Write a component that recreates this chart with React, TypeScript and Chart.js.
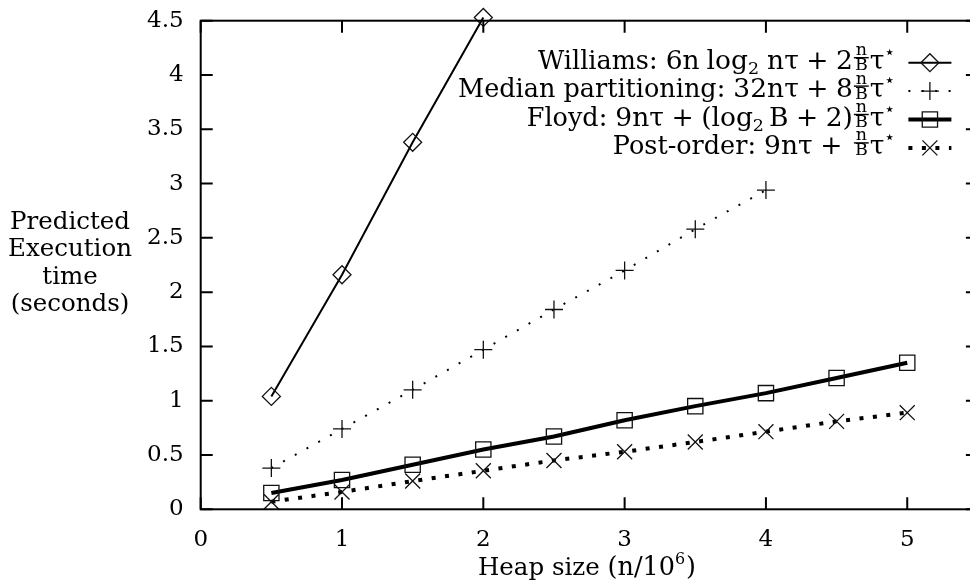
import React, { useEffect, useRef } from "react";
import { Chart, registerables } from "chart.js";

Chart.register(...registerables);

// ---- data ----
const xValues = [0.5, 1, 1.5, 2, 2.5, 3, 3.5, 4, 4.5, 5];
const williams = [1.04, 2.16, 3.38, 4.53];
const median = [0.38, 0.74, 1.1, 1.47, 1.84, 2.2, 2.58, 2.94];
const floyd = [0.15, 0.27, 0.41, 0.55, 0.67, 0.82, 0.95, 1.07, 1.21, 1.35];
const postOrder = [0.07, 0.16, 0.26, 0.355, 0.45, 0.53, 0.62, 0.715, 0.81, 0.89];
const xTicks = [0, 1, 2, 3, 4, 5];
const yTicks = [0, 0.5, 1, 1.5, 2, 2.5, 3, 3.5, 4, 4.5];
const yTitle = ["Predicted", "Execution", "time", "(seconds)"];

type Kind = "t" | "m" | "op" | "sp" | "sub" | "sup" | "frac";
type Piece = { t: string; k: Kind };
const T = (t: string): Piece => ({ t, k: "t" });
const M = (t: string): Piece => ({ t, k: "m" });
const OP = (t: string): Piece => ({ t, k: "op" });
const SP = (t: string): Piece => ({ t, k: "sp" });
const SUB = (t: string): Piece => ({ t, k: "sub" });
const SUP = (t: string): Piece => ({ t, k: "sup" });
const FRAC: Piece = { t: "n|B", k: "frac" };

const legendRows: Piece[][] = [
  [T("Williams: "), M("6n"), SP("7"), M("log"), SUB("2"), SP("7"), M("nτ"), OP("+"), M("2"), FRAC, M("τ"), SUP("⋆")],
  [T("Median partitioning: "), M("32nτ"), OP("+"), M("8"), FRAC, M("τ"), SUP("⋆")],
  [T("Floyd: "), M("9nτ"), OP("+"), M("(log"), SUB("2"), SP("4"), M("B"), OP("+"), M("2)"), FRAC, M("τ"), SUP("⋆")],
  [T("Post-order: "), M("9nτ"), OP("+"), SP("3"), FRAC, M("τ"), SUP("⋆")],
];
const xTitle: Piece[] = [T("Heap size "), M("(n/10"), SUP("6"), M(")")];

const FAMILY = '"DejaVu Serif"';
type Fonts = { text: string; math: string; small: string; gap: number };
const LEGEND_FONTS: Fonts = { text: `25.5px ${FAMILY}`, math: `26.5px ${FAMILY}`, small: `17.5px ${FAMILY}`, gap: 7.5 };
const TITLE_FONTS: Fonts = { text: `24.5px ${FAMILY}`, math: `25.5px ${FAMILY}`, small: `16px ${FAMILY}`, gap: 6 };

function pieceWidth(ctx: CanvasRenderingContext2D, p: Piece, f: Fonts) {
  if (p.k === "t") {
    ctx.font = f.text;
    return ctx.measureText(p.t).width;
  }
  if (p.k === "m") {
    ctx.font = f.math;
    return ctx.measureText(p.t).width;
  }
  if (p.k === "op") {
    ctx.font = f.math;
    return ctx.measureText(p.t).width + 2 * f.gap;
  }
  if (p.k === "sp") return Number(p.t);
  ctx.font = f.small;
  if (p.k === "frac") {
    const [a, b] = p.t.split("|");
    return Math.max(ctx.measureText(a).width, ctx.measureText(b).width) + 4;
  }
  return ctx.measureText(p.t).width + 1;
}

function drawRich(ctx: CanvasRenderingContext2D, pieces: Piece[], x0: number, base: number, f: Fonts) {
  let x = x0;
  ctx.textBaseline = "alphabetic";
  ctx.textAlign = "left";
  for (const p of pieces) {
    const w = pieceWidth(ctx, p, f);
    if (p.k === "t") {
      ctx.font = f.text;
      ctx.fillText(p.t, x, base);
    } else if (p.k === "m") {
      ctx.font = f.math;
      ctx.fillText(p.t, x, base);
    } else if (p.k === "op") {
      ctx.font = f.math;
      ctx.fillText(p.t, x + f.gap, base);
    } else if (p.k === "sub") {
      ctx.font = f.small;
      ctx.fillText(p.t, x, base + 5);
    } else if (p.k === "sup") {
      ctx.font = f.small;
      ctx.fillText(p.t, x, base - 11);
    } else if (p.k === "frac") {
      const [a, b] = p.t.split("|");
      ctx.font = f.small;
      const bar = base - 11;
      ctx.textAlign = "center";
      ctx.fillText(a, x + w / 2, bar - 2.5);
      ctx.fillText(b, x + w / 2, base + 1.5);
      ctx.textAlign = "left";
      ctx.fillRect(x + 1, bar - 0.7, w - 2, 1.4);
    }
    x += w;
  }
  return x;
}

function richWidth(ctx: CanvasRenderingContext2D, pieces: Piece[], f: Fonts) {
  return pieces.reduce((s, p) => s + pieceWidth(ctx, p, f), 0);
}

function drawMarker(ctx: CanvasRenderingContext2D, style: string, r: number, x: number, y: number) {
  ctx.beginPath();
  if (style === "rectRot") {
    ctx.moveTo(x - r, y);
    ctx.lineTo(x, y - r);
    ctx.lineTo(x + r, y);
    ctx.lineTo(x, y + r);
    ctx.closePath();
  } else if (style === "rect") {
    const s = Math.SQRT1_2 * r;
    ctx.rect(x - s, y - s, 2 * s, 2 * s);
  } else if (style === "cross") {
    ctx.moveTo(x - r, y);
    ctx.lineTo(x + r, y);
    ctx.moveTo(x, y - r);
    ctx.lineTo(x, y + r);
  } else {
    const s = Math.SQRT1_2 * r;
    ctx.moveTo(x - s, y - s);
    ctx.lineTo(x + s, y + s);
    ctx.moveTo(x + s, y - s);
    ctx.lineTo(x - s, y + s);
  }
  ctx.stroke();
}

const framePlugin = {
  id: "frame",
  afterDraw(chart: any) {
    const { ctx, chartArea: a, scales } = chart;
    const xs = scales.x;
    const ys = scales.y;
    ctx.save();
    ctx.strokeStyle = "#000";
    ctx.fillStyle = "#000";
    ctx.lineWidth = 2;
    ctx.setLineDash([]);
    ctx.strokeRect(a.left, a.top, a.right - a.left, a.bottom - a.top);
    const TL = 12;
    ctx.beginPath();
    for (const v of xTicks) {
      const px = xs.getPixelForValue(v);
      ctx.moveTo(px, a.bottom);
      ctx.lineTo(px, a.bottom - TL);
      ctx.moveTo(px, a.top);
      ctx.lineTo(px, a.top + TL);
    }
    for (const v of yTicks) {
      const py = ys.getPixelForValue(v);
      ctx.moveTo(a.left, py);
      ctx.lineTo(a.left + TL, py);
      ctx.moveTo(a.right, py);
      ctx.lineTo(a.right - TL, py);
    }
    ctx.stroke();

    // y title
    ctx.font = TITLE_FONTS.text;
    ctx.textAlign = "center";
    ctx.textBaseline = "alphabetic";
    yTitle.forEach((line, i) => ctx.fillText(line, 70, 229 + i * 27.3));

    // x title
    const xw = richWidth(ctx, xTitle, TITLE_FONTS);
    drawRich(ctx, xTitle, 587 - xw / 2, 575, TITLE_FONTS);

    // legend
    const textRight = a.right - 81.5;
    const sx0 = a.right - 69.5;
    const sx1 = a.right - 26.5;
    const sxc = (sx0 + sx1) / 2;
    chart.data.datasets.forEach((ds: any, i: number) => {
      const lineY = a.top + 42 + i * 28.4;
      const row = legendRows[i];
      const w = richWidth(ctx, row, LEGEND_FONTS);
      ctx.fillStyle = "#000";
      drawRich(ctx, row, textRight - w, lineY + 6, LEGEND_FONTS);
      ctx.beginPath();
      ctx.strokeStyle = "#000";
      ctx.lineWidth = ds.borderWidth;
      ctx.setLineDash(ds.borderDash || []);
      ctx.lineCap = "butt";
      ctx.moveTo(sx0, lineY);
      ctx.lineTo(sx1, lineY);
      ctx.stroke();
      ctx.setLineDash([]);
      ctx.lineWidth = ds.pointBorderWidth;
      ctx.strokeStyle = ds.pointBorderColor;
      drawMarker(ctx, ds.pointStyle, ds.pointRadius, sxc, lineY);
    });
    ctx.restore();
  },
};

export default function App() {
  const ref = useRef<HTMLCanvasElement | null>(null);
  useEffect(() => {
    if (!ref.current) return;
    const tickFont = { family: "DejaVu Serif", size: 23 };
    const mk = (label: string, ys: number[], extra: any) => ({
      label,
      data: ys.map((y, i) => ({ x: xValues[i], y })),
      borderColor: "#000",
      pointBorderColor: "#111",
      pointBackgroundColor: "rgba(0,0,0,0)",
      pointBorderWidth: 1.3,
      pointHoverRadius: 0,
      tension: 0,
      borderCapStyle: "butt",
      ...extra,
    });
    const chart = new Chart(ref.current, {
      type: "line",
      data: {
        datasets: [
          mk("Williams", williams, { borderWidth: 2, pointStyle: "rectRot", pointRadius: 9, clip: { left: 0, right: 0, top: 14, bottom: 0 } }),
          mk("Median partitioning", median, { borderWidth: 2, borderDash: [2, 11.4], pointStyle: "cross", pointRadius: 9 }),
          mk("Floyd", floyd, { borderWidth: 4, pointStyle: "rect", pointRadius: 10.8 }),
          mk("Post-order", postOrder, { borderWidth: 4, borderDash: [4, 9.5], pointStyle: "crossRot", pointRadius: 10.6 }),
        ],
      },
      options: {
        responsive: false,
        animation: false,
        events: [],
        layout: { padding: { top: 20.7, right: 11.6, bottom: 0, left: 0 } },
        plugins: { legend: { display: false }, tooltip: { enabled: false } },
        scales: {
          x: {
            type: "linear",
            min: 0,
            max: 5.5,
            afterBuildTicks: (s: any) => {
              s.ticks = xTicks.map((v) => ({ value: v }));
            },
            ticks: { padding: 17, font: tickFont, color: "#000", callback: (v: any) => String(v), maxRotation: 0, autoSkip: false },
            grid: { display: false, drawTicks: false },
            border: { display: false },
            afterFit: (s: any) => {
              s.height = 75.7;
              s.paddingLeft = 0;
              s.paddingRight = 0;
            },
          },
          y: {
            type: "linear",
            min: 0,
            max: 4.5,
            afterBuildTicks: (s: any) => {
              s.ticks = yTicks.map((v) => ({ value: v }));
            },
            ticks: { padding: 17, font: tickFont, color: "#000", callback: (v: any) => String(v), autoSkip: false },
            grid: { display: false, drawTicks: false },
            border: { display: false },
            afterFit: (s: any) => {
              s.width = 200.7;
              s.paddingTop = 0;
              s.paddingBottom = 0;
            },
          },
        },
      },
      plugins: [framePlugin],
    } as any);
    return () => chart.destroy();
  }, []);
  return (
    <div style={{ position: "fixed", left: 0, top: 0, width: 970, height: 585, overflow: "hidden", background: "#fff" }}>
      <canvas ref={ref} width={990} height={585} style={{ width: 990, height: 585, display: "block" }} />
    </div>
  );
}
